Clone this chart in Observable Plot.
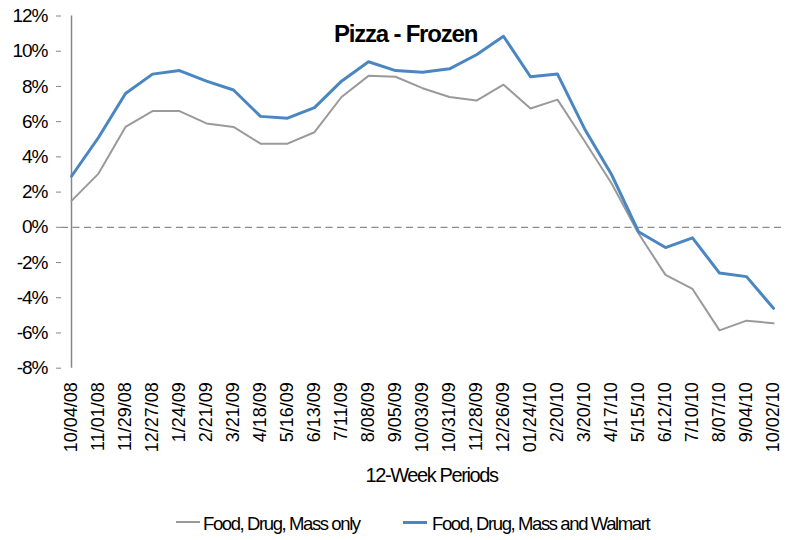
<!DOCTYPE html>
<html><head><meta charset="utf-8">
<script src="https://cdn.jsdelivr.net/npm/d3@7"></script>
<script src="https://cdn.jsdelivr.net/npm/@observablehq/plot@0.6"></script>
<style>
body{margin:0;background:#fff;font-family:"Liberation Sans",Arial,sans-serif;}
#legend{position:relative;height:40px;width:792px;color:#000;}
#legend .sw{position:absolute;width:24px;}
#legend .lt{position:absolute;font-size:18.5px;line-height:1;letter-spacing:-1.4px;white-space:nowrap;}
</style></head><body>
<div id="chart"></div>
<div id="legend"></div>
<script>
const periods = ["10/04/08","11/01/08","11/29/08","12/27/08","1/24/09","2/21/09","3/21/09","4/18/09","5/16/09","6/13/09","7/11/09","8/08/09","9/05/09","10/03/09","10/31/09","11/28/09","12/26/09","01/24/10","2/20/10","3/20/10","4/17/10","5/15/10","6/12/10","7/10/10","8/07/10","9/04/10","10/02/10"];
const fdmOnly = [1.5, 3.05, 5.7, 6.6, 6.6, 5.9, 5.7, 4.75, 4.75, 5.4, 7.4, 8.6, 8.55, 7.9, 7.4, 7.2, 8.1, 6.75, 7.25, 4.9, 2.5, -0.35, -2.7, -3.5, -5.85, -5.3, -5.45];
const fdmWalmart = [2.9, 5.1, 7.6, 8.7, 8.9, 8.3, 7.8, 6.3, 6.2, 6.8, 8.3, 9.4, 8.9, 8.8, 9.0, 9.8, 10.85, 8.55, 8.7, 5.6, 3.0, -0.25, -1.15, -0.6, -2.6, -2.8, -4.6];
const seriesNames = ["Food, Drug, Mass only", "Food, Drug, Mass and Walmart"];
const seriesColors = ["#9a9a9a", "#4a86c2"];
const seriesWidths = [2, 3];
const yTicks = [-8, -6, -4, -2, 0, 2, 4, 6, 8, 10, 12];
const chartTitle = "Pizza - Frozen";
const xTitle = "12-Week Periods";

const rows = periods.flatMap((p, i) => [
  {period: p, series: seriesNames[0], value: fdmOnly[i]},
  {period: p, series: seriesNames[1], value: fdmWalmart[i]}
]);

const plot = Plot.plot({
  width: 792, height: 500,
  marginLeft: 61, marginRight: 9, marginTop: 15.5, marginBottom: 132.3,
  style: {fontFamily: "'Liberation Sans', Arial, sans-serif", background: "#fff", color: "#000"},
  x: {type: "point", domain: periods, padding: 0},
  y: {domain: [-8, 12]},
  marks: [
    Plot.ruleY([0], {stroke: "#8c8c8c", strokeWidth: 1.2, strokeDasharray: "7,4.5"}),
    Plot.ruleX([periods[0]], {stroke: "#868686", strokeWidth: 1.5}),
    Plot.axisY({ticks: yTicks, tickFormat: d => d + "%", tickSize: 5, tickPadding: 9, fontSize: 19, stroke: "#868686", fill: "#000", label: null}),
    Plot.axisX({tickRotate: -90, tickSize: 0, tickPadding: 14, fontSize: 18, fill: "#000", label: null}),
    ...seriesNames.map((s, k) => Plot.line(rows.filter(r => r.series === s), {x: "period", y: "value", stroke: seriesColors[k], strokeWidth: seriesWidths[k]})),
    Plot.text([chartTitle], {text: d => d, frameAnchor: "top", dx: -17, dy: 9, fontSize: 24, fontWeight: "bold", fill: "#000"}),
    Plot.text([xTitle], {text: d => d, frameAnchor: "bottom", dx: 9, dy: 114, fontSize: 20, fill: "#000"})
  ]
});
d3.select(plot).selectAll("text").each(function() {
  const t = this.textContent;
  if (t === chartTitle) this.style.letterSpacing = "-1.2px";
  else if (t === xTitle) this.style.letterSpacing = "-1.4px";
  else if (t.endsWith("%")) this.style.letterSpacing = "-1px";
});
document.getElementById("chart").append(plot);

const legend = d3.select("#legend");
const legendLayout = [{sw: 176, tx: 203}, {sw: 403, tx: 432}];
seriesNames.forEach((s, k) => {
  legend.append("span").attr("class", "sw")
    .style("left", legendLayout[k].sw + "px")
    .style("top", (22.3 - seriesWidths[k] / 2) + "px")
    .style("height", seriesWidths[k] + "px")
    .style("background", seriesColors[k]);
  legend.append("span").attr("class", "lt")
    .style("left", legendLayout[k].tx + "px")
    .style("top", "15.3px")
    .text(s);
});
</script>
</body></html>
